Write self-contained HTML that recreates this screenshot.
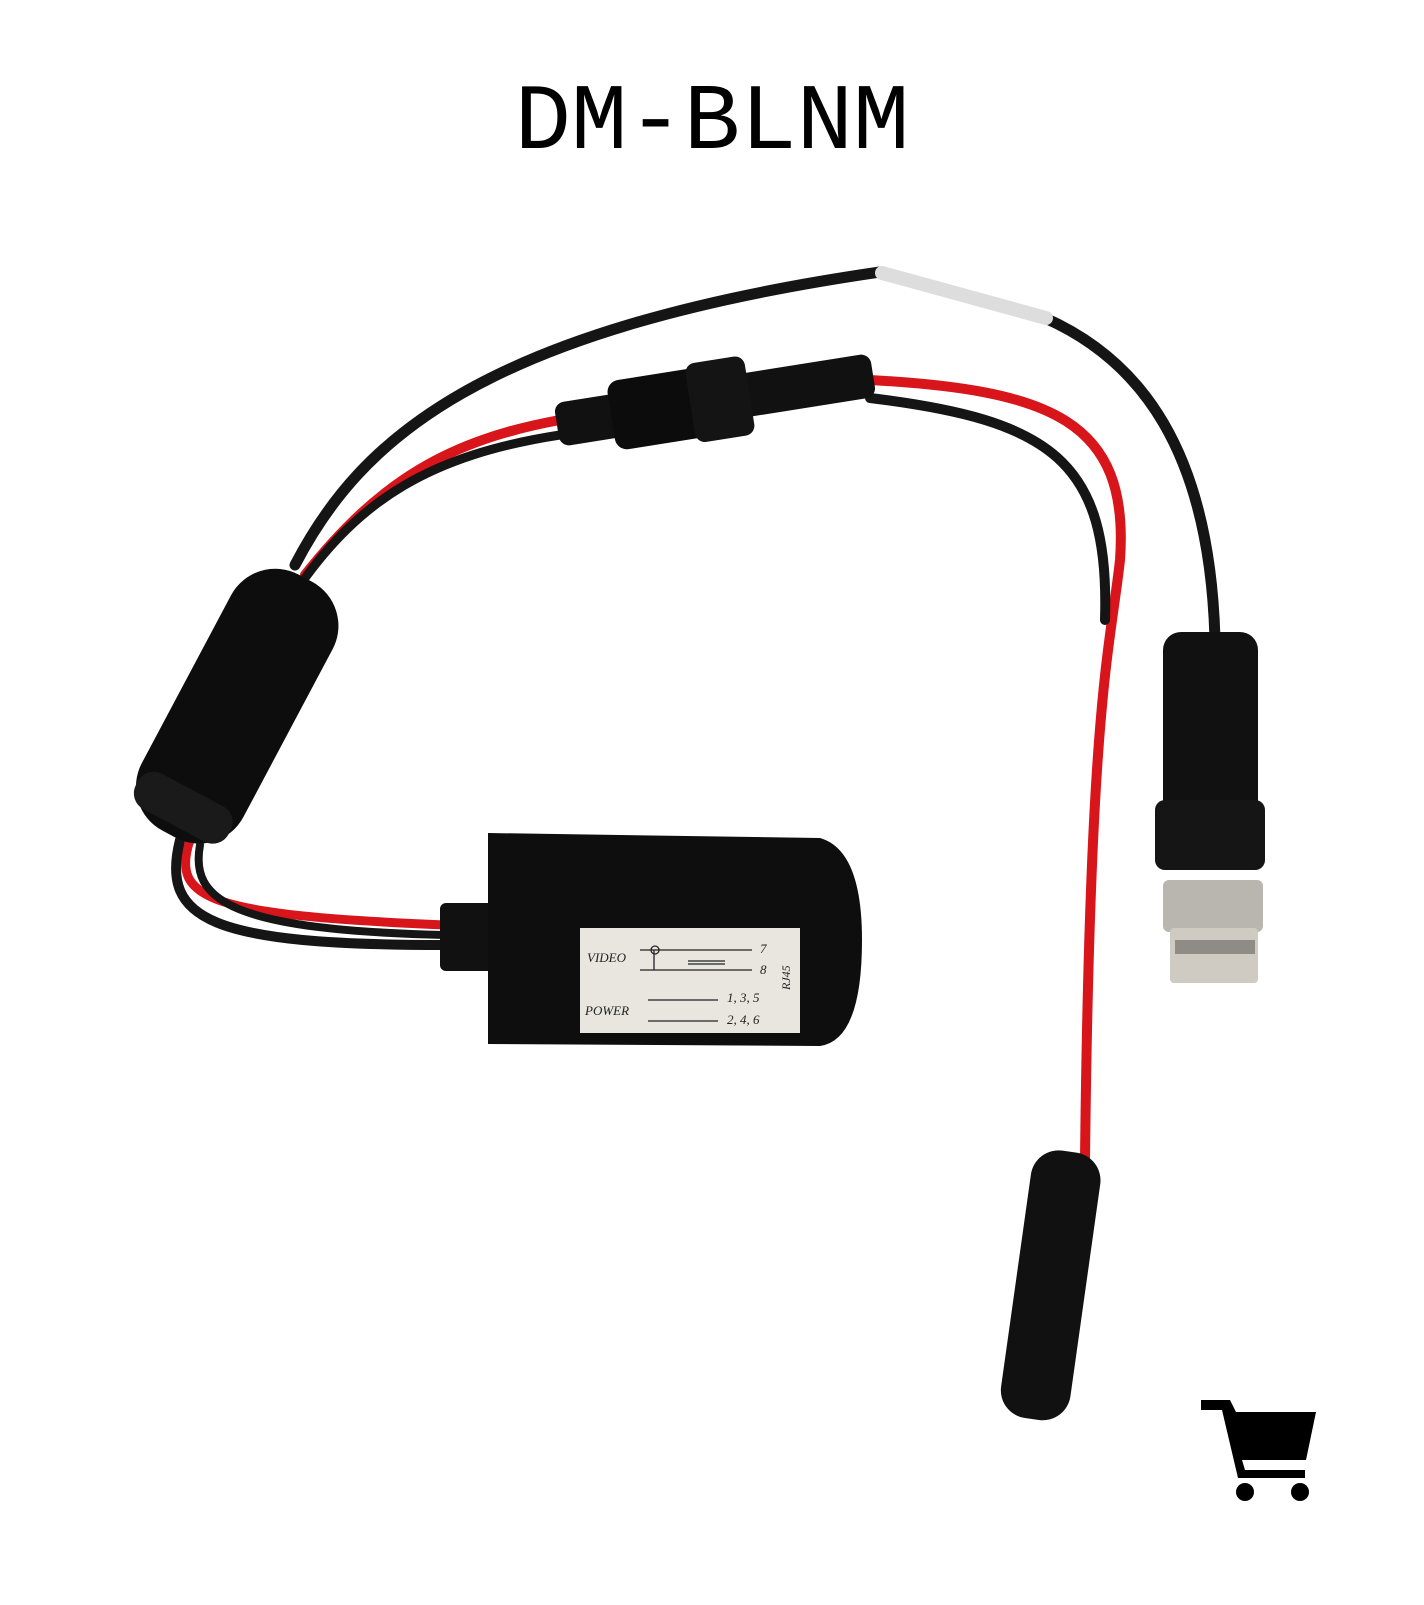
<!DOCTYPE html>
<html><head><meta charset="utf-8"><style>
body{margin:0;background:#fff;width:1424px;height:1600px;overflow:hidden}
</style></head><body>
<svg width="1424" height="1600" viewBox="0 0 1424 1600" xmlns="http://www.w3.org/2000/svg">
<text x="712" y="148" text-anchor="middle" font-family="Liberation Mono, monospace" font-size="94" fill="#000">DM-BLNM</text>
<g fill="none" stroke-linecap="round">
<!-- top black cable -->
<path d="M295 565 C360 440 480 330 880 272 L1045 318 C1140 360 1210 450 1215 640" stroke="#151515" stroke-width="11"/>
<path d="M882 273 L1046 318" stroke="#ddd" stroke-width="14"/>
<!-- red & black pair -->
<path d="M305 575 C380 480 450 440 560 420" stroke="#d8151b" stroke-width="10"/>
<path d="M300 585 C360 500 430 455 560 435" stroke="#151515" stroke-width="9"/>
<path d="M870 380 C1050 390 1130 420 1120 560 C1110 650 1090 700 1085 1160" stroke="#d8151b" stroke-width="10"/>
<path d="M870 398 C1050 420 1110 460 1105 620" stroke="#151515" stroke-width="10"/>
<!-- lower cables to box -->
<path d="M190 840 C170 900 210 915 445 925" stroke="#d8151b" stroke-width="9"/>
<path d="M180 840 C160 920 210 945 445 945" stroke="#151515" stroke-width="10"/>
<path d="M200 845 C190 900 230 930 445 935" stroke="#151515" stroke-width="8"/>
</g>
<!-- fuse holder -->
<g transform="rotate(-9 715 400)">
<rect x="555" y="378" width="320" height="44" rx="10" fill="#111"/>
<rect x="610" y="365" width="130" height="70" rx="12" fill="#0c0c0c"/>
<rect x="690" y="360" width="60" height="80" rx="10" fill="#141414"/>
</g>
<!-- ferrite -->
<g transform="rotate(28 235 705)">
<rect x="180" y="560" width="115" height="290" rx="50" fill="#0d0d0d"/>
<rect x="185" y="800" width="105" height="40" rx="18" fill="#1a1a1a"/>
</g>
<!-- box -->
<rect x="440" y="903" width="55" height="68" rx="6" fill="#111"/>
<path d="M488 833 L820 838 Q862 850 862 940 Q862 1040 820 1046 L488 1044 Z" fill="#0e0e0e"/>
<rect x="580" y="928" width="220" height="105" fill="#e9e6e0"/>
<g font-family="Liberation Serif, serif" font-style="italic" fill="#222" font-size="13">
<text x="587" y="962">VIDEO</text>
<text x="585" y="1015">POWER</text>
<text x="760" y="953">7</text><text x="760" y="974">8</text>
<text x="727" y="1002">1, 3, 5</text><text x="727" y="1024">2, 4, 6</text>
<text transform="translate(790 990) rotate(-90)" font-size="12">RJ45</text>
</g>
<g stroke="#222" stroke-width="1.3" fill="none">
<path d="M640 950 H752 M640 970 H752 M654 950 V970 M688 961 H725 M688 964 H725 M648 1000 H718 M648 1021 H718"/>
<circle cx="655" cy="950" r="4"/>
</g>
<!-- BNC -->
<rect x="1163" y="632" width="95" height="200" rx="18" fill="#111"/>
<rect x="1155" y="800" width="110" height="70" rx="10" fill="#151515"/>
<rect x="1163" y="880" width="100" height="52" rx="6" fill="#b9b6b0"/>
<rect x="1170" y="928" width="88" height="55" rx="4" fill="#cfcac2"/>
<rect x="1175" y="940" width="80" height="14" fill="#8f8b85"/>
<!-- DC jack -->
<g transform="rotate(8 1048 1290)">
<rect x="1015" y="1150" width="70" height="270" rx="28" fill="#111"/>
</g>
<!-- cart -->
<g fill="#000">
<path d="M1201 1400 H1230 L1236 1412 H1316 L1306 1460 H1242 L1245 1470 H1305 V1478 H1238 L1222 1410 H1201 Z"/>
<circle cx="1245" cy="1492" r="9"/><circle cx="1300" cy="1492" r="9"/>
</g>
</svg>
</body></html>
